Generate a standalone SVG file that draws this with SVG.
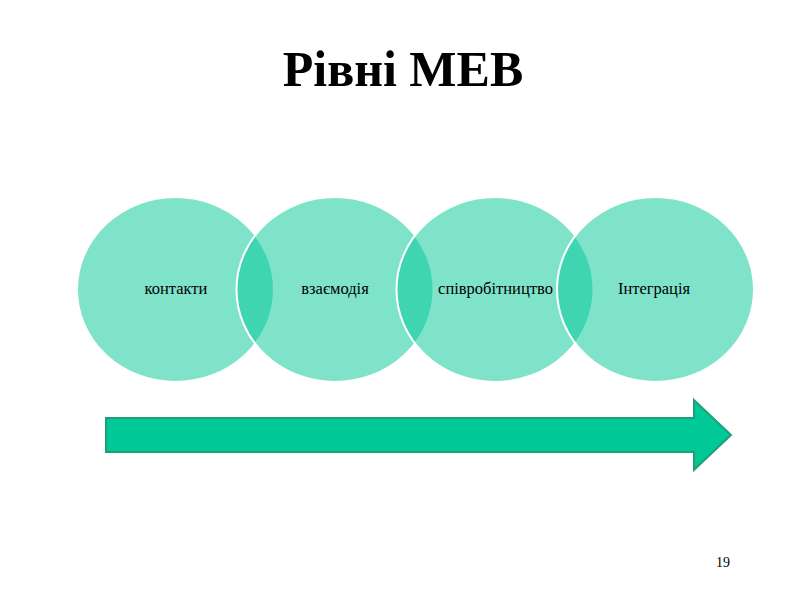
<svg xmlns="http://www.w3.org/2000/svg" width="800" height="600" viewBox="0 0 800 600">
<style>
.c{fill:#00C896;fill-opacity:0.5;stroke:#ffffff;stroke-width:2}
.t{font-family:"Liberation Serif","Times New Roman",serif;font-size:16.5px;fill:#000;text-anchor:middle}
</style>
<rect width="800" height="600" fill="#ffffff"/>
<text x="403" y="86" font-family="Liberation Serif,serif" font-size="50" font-weight="bold" text-anchor="middle" fill="#000">Рівні МЕВ</text>
<g id="n1"><ellipse class="c" cx="175.5" cy="289.5" rx="98.5" ry="92.5"/><text class="t" x="176" y="294">контакти</text></g>
<g id="n2"><ellipse class="c" cx="335" cy="289.5" rx="98.5" ry="92.5"/><text class="t" x="335" y="294">взаємодія</text></g>
<g id="n3"><ellipse class="c" cx="495" cy="289.5" rx="98.5" ry="92.5"/><text class="t" x="495.5" y="294">співробітництво</text></g>
<g id="n4"><ellipse class="c" cx="655.5" cy="289.5" rx="98.5" ry="92.5"/><text class="t" x="654" y="294">Інтеграція</text></g>
<g id="connectors">
<path d="M106,418 L694,418 L694,400 L731,435 L694,470 L694,452 L106,452 Z" fill="#00C896" stroke="#1F9E78" stroke-width="2" stroke-linejoin="miter"/>
</g>
<text x="723" y="567" font-family="Liberation Serif,serif" font-size="14" text-anchor="middle" fill="#000">19</text>
</svg>
